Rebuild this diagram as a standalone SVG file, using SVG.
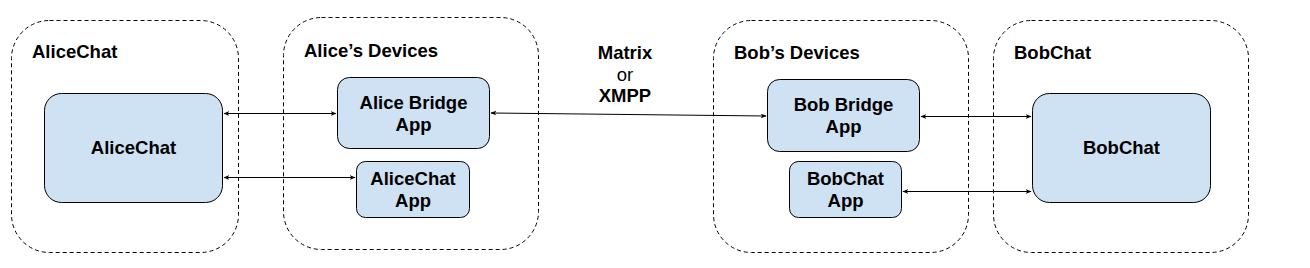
<svg xmlns="http://www.w3.org/2000/svg" width="1310" height="268" viewBox="0 0 1310 268">
<style>
.grp{fill:none;stroke:#000;stroke-width:1;stroke-dasharray:4,3}
.node{fill:#cfe2f3;stroke:#000;stroke-width:1}
.t{font-family:"Liberation Sans",Arial,sans-serif;font-size:18.5px;font-weight:bold;fill:#000}
.c{text-anchor:middle}
.r{font-weight:normal}
.conn{stroke:#000;stroke-width:1;fill:none;marker-start:url(#ah);marker-end:url(#ah)}
</style>
<defs>
<marker id="ah" viewBox="0 0 10 10" refX="9" refY="5" markerWidth="6" markerHeight="6" orient="auto-start-reverse" markerUnits="userSpaceOnUse">
<path d="M0,1 L10,5 L0,9 L3,5 Z" fill="#000"/>
</marker>
</defs>
<rect width="1310" height="268" fill="#fff"/>
<g id="group-alicechat">
<rect class="grp" x="11.5" y="20.5" width="227" height="232" rx="38"/>
<text class="t" x="32" y="58">AliceChat</text>
</g>
<g id="group-alice-devices">
<rect class="grp" x="283.5" y="17.5" width="255" height="232" rx="38"/>
<text class="t" x="304" y="57">Alice’s Devices</text>
</g>
<g id="group-bob-devices">
<rect class="grp" x="713.5" y="20.5" width="255" height="232" rx="38"/>
<text class="t" x="734" y="59">Bob’s Devices</text>
</g>
<g id="group-bobchat">
<rect class="grp" x="993.5" y="20.5" width="255" height="232" rx="38"/>
<text class="t" x="1014" y="59">BobChat</text>
</g>
<g id="node-alicechat">
<rect class="node" x="44.5" y="93.5" width="178" height="109" rx="17"/>
<text class="t c" x="133.5" y="154">AliceChat</text>
</g>
<g id="node-alice-bridge">
<rect class="node" x="337.5" y="77.5" width="152" height="71" rx="12"/>
<text class="t c" x="413.5" y="109">Alice Bridge</text>
<text class="t c" x="413.5" y="131">App</text>
</g>
<g id="node-alicechat-app">
<rect class="node" x="356.5" y="161.5" width="113" height="56" rx="9"/>
<text class="t c" x="413" y="185">AliceChat</text>
<text class="t c" x="413" y="207">App</text>
</g>
<g id="node-bob-bridge">
<rect class="node" x="767.5" y="79.5" width="152" height="72" rx="12"/>
<text class="t c" x="843.5" y="111">Bob Bridge</text>
<text class="t c" x="843.5" y="133">App</text>
</g>
<g id="node-bobchat-app">
<rect class="node" x="789.5" y="161.5" width="112" height="56" rx="9"/>
<text class="t c" x="845.5" y="185">BobChat</text>
<text class="t c" x="845.5" y="207">App</text>
</g>
<g id="node-bobchat">
<rect class="node" x="1032.5" y="93.5" width="178" height="109" rx="17"/>
<text class="t c" x="1121.5" y="154">BobChat</text>
</g>
<g id="label-protocol">
<text class="t c" x="625" y="59">Matrix</text>
<text class="t c r" x="625" y="81">or</text>
<text class="t c" x="625" y="102">XMPP</text>
</g>
<g id="connectors">
<line class="conn" x1="224" y1="113.5" x2="336" y2="113.5"/>
<line class="conn" x1="224" y1="177.5" x2="355" y2="177.5"/>
<line class="conn" x1="491" y1="113" x2="766" y2="116"/>
<line class="conn" x1="921" y1="116.5" x2="1031" y2="116.5"/>
<line class="conn" x1="903" y1="191.5" x2="1031" y2="191.5"/>
</g>
</svg>
